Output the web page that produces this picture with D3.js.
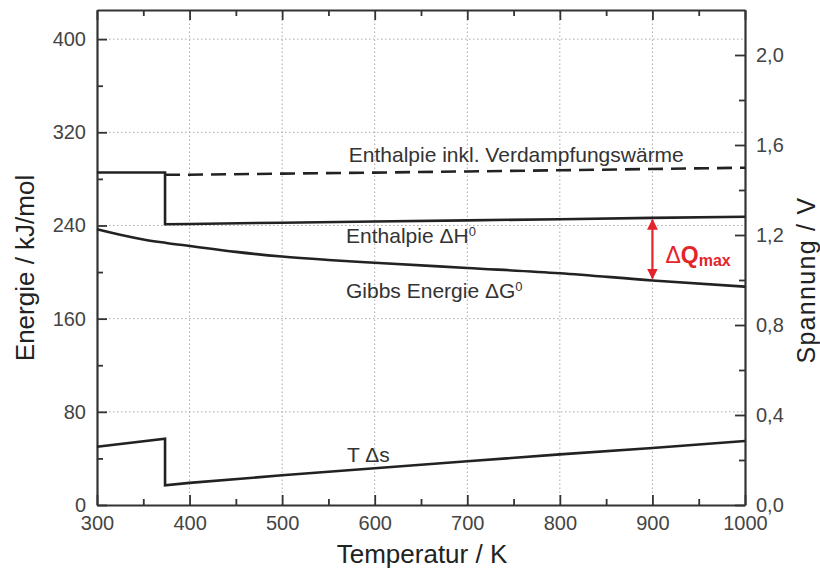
<!DOCTYPE html>
<html>
<head>
<meta charset="utf-8">
<script src="https://cdn.jsdelivr.net/npm/d3@7"></script>
<style>
  body { margin: 0; background: #fff; }
  text { font-family: "Liberation Sans", Arial, sans-serif; }
</style>
</head>
<body>
<script>
  //Data
  var xTicks = [300, 400, 500, 600, 700, 800, 900, 1000];
  var yTicks = [0, 80, 160, 240, 320, 400];
  var vTicks = [0, 0.4, 0.8, 1.2, 1.6, 2.0];

  //Enthalpie dH0 (liquid up to 373 K, then step down)
  var hT = [300, 373.5, 373.5, 400, 500, 600, 700, 800, 900, 1000];
  var hVal = [285.5, 285.5, 241, 241.3, 242.4, 243.4, 244.4, 245.4, 246.5, 247.5];

  //Enthalpie inkl. Verdampfungswaerme (dashed)
  var vapT = [373.5, 400, 500, 600, 700, 800, 900, 1000];
  var vapVal = [283.5, 283.6, 284.5, 285.4, 286.4, 287.4, 288.5, 289.6];

  //Gibbs Energie dG0
  var gT = [300, 325, 350, 375, 400, 450, 500, 550, 600, 700, 800, 900, 1000];
  var gVal = [236.8, 232, 228, 225, 222.4, 217.3, 213.3, 210.4, 208, 203.5, 199, 192.8, 187.5];

  //T ds
  var tsT = [300, 373.5, 373.5, 400, 500, 600, 700, 800, 900, 1000];
  var tsVal = [50, 57, 17, 19, 25.5, 31.5, 37.5, 43.5, 49, 55];

  var w = 820; //svg width
  var h = 569; //svg height
  var margin = { top: 10, right: 75, bottom: 64, left: 97 };

  var svg = d3.select("body")
      .append("svg")
      .attr("width", w)
      .attr("height", h);

  //SCALES
  var x = d3.scaleLinear()
      .domain([300, 1000])
      .range([margin.left, w - margin.right]);

  var y = d3.scaleLinear()
      .domain([0, 425])
      .range([h - margin.bottom, margin.top]);

  var v = d3.scaleLinear()
      .domain([0, 2.2])
      .range([h - margin.bottom, margin.top]);

  //GRID
  svg.append("g")
      .selectAll("line")
      .data(yTicks.slice(1))
      .enter()
      .append("line")
      .attr("x1", x(300))
      .attr("x2", x(1000))
      .attr("y1", function(d) { return y(d); })
      .attr("y2", function(d) { return y(d); })
      .attr("stroke", "#aaa")
      .attr("stroke-width", 1)
      .attr("stroke-dasharray", "1.5,2.5");

  svg.append("g")
      .selectAll("line")
      .data(xTicks.slice(1, -1))
      .enter()
      .append("line")
      .attr("x1", function(d) { return x(d); })
      .attr("x2", function(d) { return x(d); })
      .attr("y1", y(0))
      .attr("y2", margin.top)
      .attr("stroke", "#aaa")
      .attr("stroke-width", 1)
      .attr("stroke-dasharray", "1.5,2.5");

  //AXES (ticks inward)
  var axisColor = "#333";
  var axisB = d3.axisBottom(x).tickValues(d3.range(300, 1001, 50))
      .tickSizeOuter(0)
      .tickFormat(function(d) { return d % 100 === 0 ? d : ""; });
  var axisT = d3.axisTop(x).tickValues(d3.range(300, 1001, 50))
      .tickSizeOuter(0).tickFormat("");
  var axisL = d3.axisLeft(y).tickValues(d3.range(0, 401, 40))
      .tickSizeOuter(0)
      .tickFormat(function(d) { return d % 80 === 0 ? d : ""; });
  var axisR = d3.axisRight(v).tickValues(d3.range(0, 11).map(function(i) { return i * 0.2; }))
      .tickSizeOuter(0)
      .tickFormat(function(d, i) { return i % 2 === 0 ? d3.format(".1f")(d).replace(".", ",") : ""; });

  var gB = svg.append("g").attr("transform", "translate(0," + y(0) + ")").call(axisB);
  var gTop = svg.append("g").attr("transform", "translate(0," + margin.top + ")").call(axisT);
  var gL = svg.append("g").attr("transform", "translate(" + margin.left + ",0)").call(axisL);
  var gR = svg.append("g").attr("transform", "translate(" + (w - margin.right) + ",0)").call(axisR);

  [gB, gTop, gL, gR].forEach(function(g) {
      g.select(".domain").attr("stroke", axisColor).attr("stroke-width", 2.2);
      g.selectAll(".tick line").attr("stroke", axisColor).attr("stroke-width", 1.8);
      g.selectAll(".tick text").attr("fill", "#444").style("font-size", "20px")
          .style("font-family", "Liberation Sans, Arial, sans-serif");
  });

  //inward ticks, majors longer
  gB.selectAll(".tick line").attr("y2", function(d) { return d % 100 === 0 ? -10 : -6; });
  gTop.selectAll(".tick line").attr("y2", function(d) { return d % 100 === 0 ? 10 : 6; });
  gL.selectAll(".tick line").attr("x2", function(d) { return d % 80 === 0 ? 10 : 6; });
  gR.selectAll(".tick line").attr("x2", function(d, i) { return i % 2 === 0 ? -10 : -6; });
  gB.selectAll(".tick text").attr("y", 11);
  gL.selectAll(".tick text").attr("x", -11);
  gR.selectAll(".tick text").attr("x", 11);

  //LINES
  var lineColor = "#222";
  function drawLine(ts, vals, dash, curve) {
      var pts = ts.map(function(t, i) { return [t, vals[i]]; });
      svg.append("path")
          .datum(pts)
          .attr("fill", "none")
          .attr("stroke", lineColor)
          .attr("stroke-width", 2.6)
          .attr("stroke-dasharray", dash || null)
          .attr("d", d3.line()
              .curve(curve || d3.curveLinear)
              .x(function(d) { return x(d[0]); })
              .y(function(d) { return y(d[1]); }));
  }
  drawLine(hT, hVal);
  drawLine(vapT, vapVal, "15,8");
  drawLine(gT, gVal, null, d3.curveMonotoneX);
  drawLine(tsT, tsVal);

  //LABELS
  var labelColor = "#333";
  function label(t, val, parts) {
      var txt = svg.append("text")
          .attr("x", x(t))
          .attr("y", y(val))
          .attr("fill", labelColor)
          .style("font-size", "21px");
      parts.forEach(function(p) {
          var s = txt.append("tspan").text(p.t);
          if (p.sup) s.attr("dy", "-0.55em").style("font-size", "13px");
      });
  }
  label(572, 294.5, [{ t: "Enthalpie inkl. Verdampfungswärme" }]);
  label(569, 225, [{ t: "Enthalpie \u0394H" }, { t: "0", sup: true }]);
  label(569, 178, [{ t: "Gibbs Energie \u0394G" }, { t: "0", sup: true }]);
  label(570, 36.5, [{ t: "T \u0394s" }]);

  //dQmax arrow
  var red = "#e3242b";
  var defs = svg.append("defs");
  defs.append("marker")
      .attr("id", "ah")
      .attr("viewBox", "0 0 10 10")
      .attr("refX", 9).attr("refY", 5)
      .attr("markerWidth", 5).attr("markerHeight", 5)
      .attr("orient", "auto-start-reverse")
      .append("path")
      .attr("d", "M0,0 L10,5 L0,10 Z")
      .attr("fill", red);

  svg.append("line")
      .attr("x1", x(900)).attr("x2", x(900))
      .attr("y1", y(hVal[8]) + 2).attr("y2", y(gVal[11]) - 2)
      .attr("stroke", red)
      .attr("stroke-width", 2.2)
      .attr("marker-start", "url(#ah)")
      .attr("marker-end", "url(#ah)");

  var q = svg.append("text")
      .attr("x", x(900) + 13)
      .attr("y", y(208))
      .attr("fill", red)
      .style("font-size", "23px");
  q.append("tspan").text("\u0394");
  q.append("tspan").text("Q").style("font-weight", "bold");
  q.append("tspan").text("max").attr("dy", "0.18em")
      .style("font-size", "16px").style("font-weight", "bold");

  //AXIS TITLES
  svg.append("text")
      .attr("x", 422)
      .attr("y", 563)
      .attr("text-anchor", "middle")
      .attr("fill", "#222")
      .style("font-size", "26px")
      .text("Temperatur / K");

  svg.append("text")
      .attr("transform", "translate(34,268) rotate(-90)")
      .attr("text-anchor", "middle")
      .attr("fill", "#222")
      .style("font-size", "26px")
      .text("Energie / kJ/mol");

  svg.append("text")
      .attr("transform", "translate(815,280) rotate(-90)")
      .attr("text-anchor", "middle")
      .attr("fill", "#222")
      .style("font-size", "25px")
      .style("letter-spacing", "1.3px")
      .text("Spannung / V");
</script>
</body>
</html>
